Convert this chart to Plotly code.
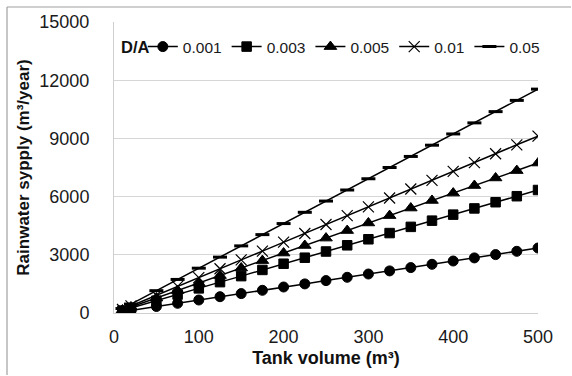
import plotly.graph_objects as go

tank_volume = [10, 20, 50, 75, 100, 125, 150, 175, 200, 225, 250, 275, 300, 325, 350, 375, 400, 425, 450, 475, 500]

series_names = ["0.001", "0.003", "0.005", "0.01", "0.05"]
supply_0001 = [70, 135, 335, 500, 670, 840, 1000, 1170, 1340, 1500, 1670, 1840, 2010, 2170, 2340, 2510, 2680, 2840, 3010, 3180, 3350]
supply_0003 = [125, 255, 635, 950, 1270, 1590, 1900, 2220, 2540, 2850, 3170, 3490, 3800, 4120, 4440, 4760, 5070, 5390, 5710, 6020, 6340]
supply_0005 = [155, 310, 770, 1160, 1550, 1930, 2320, 2700, 3090, 3480, 3860, 4250, 4640, 5020, 5410, 5800, 6180, 6570, 6960, 7340, 7730]
supply_001 = [180, 365, 910, 1370, 1820, 2280, 2740, 3190, 3650, 4100, 4560, 5020, 5470, 5930, 6390, 6840, 7300, 7750, 8210, 8670, 9120]
supply_005 = [230, 460, 1150, 1730, 2310, 2880, 3460, 4040, 4610, 5190, 5770, 6340, 6920, 7500, 8070, 8650, 9230, 9800, 10380, 10960, 11540]

all_series = [supply_0001, supply_0003, supply_0005, supply_001, supply_005]
symbols = ["circle", "square", "triangle-up", "x-thin-open", "line-ew-open"]
sizes = [10, 9.5, 11, 11, 10]
mlw = [1, 1, 1, 1.2, 3]

fig = go.Figure()
for name, vals, sym, sz, lw in zip(series_names, all_series, symbols, sizes, mlw):
    fig.add_trace(go.Scatter(
        x=tank_volume, y=vals, name=name, mode="lines+markers",
        line=dict(color="black", width=1.5),
        marker=dict(symbol=sym, size=sz, color="black", line=dict(color="black", width=lw)),
    ))

font_family = "Liberation Sans, Arial, sans-serif"
fig.update_layout(
    width=572, height=376,
    margin=dict(l=114, r=34, t=22, b=63),
    paper_bgcolor="white", plot_bgcolor="white",
    font=dict(family=font_family, size=18, color="#1a1a1a"),
    showlegend=True,
    legend=dict(
        orientation="h", x=0.068, y=0.914, xanchor="left", yanchor="middle",
        font=dict(size=15.5, color="#1a1a1a"),
        bgcolor="rgba(0,0,0,0)", itemwidth=30, tracegroupgap=0,
    ),
    xaxis=dict(
        range=[0, 500], dtick=100, tick0=0, showgrid=False,
        showline=True, linecolor="#cfcfcf", linewidth=1,
        ticks="", tickfont=dict(size=18, color="#1a1a1a"), ticklabelstandoff=7,
        title=dict(text="<b>Tank volume (m³)</b>", font=dict(size=18, color="#111"), standoff=5),
        zeroline=False,
    ),
    yaxis=dict(
        range=[0, 15000], dtick=3000, tick0=0, tickformat="d",
        showgrid=True, gridcolor="#d6d6d6",
        showline=True, linecolor="#cfcfcf", linewidth=1,
        ticks="", tickfont=dict(size=18, color="#1a1a1a"), ticklabelstandoff=20,
        title=dict(text="<b>Rainwater sypply (m³/year)</b>", font=dict(size=17, color="#111"), standoff=5),
        zeroline=False,
    ),
    annotations=[dict(
        text="<b>D/A</b>", xref="paper", yref="paper", x=(119 - 114) / 424, y=0.914,
        xanchor="left", yanchor="middle", showarrow=False,
        font=dict(size=16.5, color="#111"),
    )],
)
# outer chart frame (top and left edges visible)
fx0 = (7 - 114) / 424
fx1 = (571 - 114) / 424
fy_top = (313 - 7) / 291
fy_bot = (313 - 375) / 291
fig.add_shape(type="line", xref="paper", yref="paper", x0=fx0, x1=fx1, y0=fy_top, y1=fy_top,
              line=dict(color="#a0a0a0", width=1.2), layer="above")
fig.add_shape(type="line", xref="paper", yref="paper", x0=fx0, x1=fx0, y0=fy_bot, y1=fy_top,
              line=dict(color="#a0a0a0", width=1.2), layer="above")
fig.write_html("out.html", config={"displayModeBar": False},
               post_script="document.body.style.margin='0';document.body.style.overflow='hidden';")
